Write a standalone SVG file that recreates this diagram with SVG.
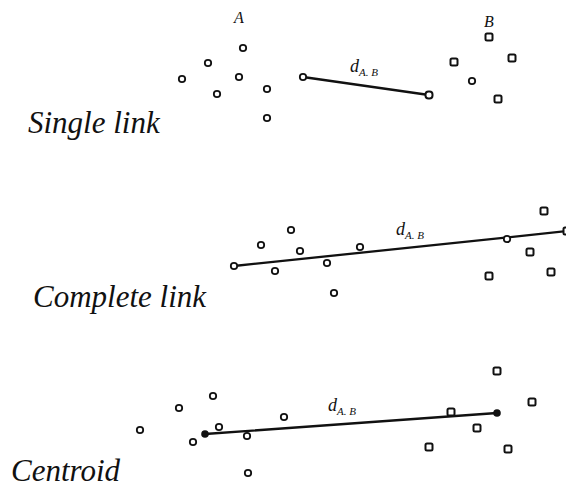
<svg xmlns="http://www.w3.org/2000/svg" width="566" height="488" viewBox="0 0 566 488">
<style>
.pt{fill:#fff;stroke:#111;stroke-width:1.8}
.sq{fill:#fff;stroke:#111;stroke-width:2}
.dot{fill:#111}
.ln{stroke:#111;stroke-width:2.3;fill:none;stroke-linecap:round}
.title{font-family:"Liberation Serif",serif;font-style:italic;font-size:31px;fill:#111}
.lbl{font-family:"Liberation Serif",serif;font-style:italic;fill:#111}
.sub{font-size:11px}
</style>
<rect width="566" height="488" fill="#fff"/>
<!-- Single link -->
<g id="single">
  <g id="single-connectors">
    <line class="ln" x1="303" y1="77" x2="429" y2="95"/>
  </g>
  <text class="lbl" x="234" y="23" font-size="16">A</text>
  <text class="lbl" x="484" y="27" font-size="16">B</text>
  <text class="lbl" x="350" y="72" font-size="18">d<tspan class="sub" dy="4">A. B</tspan></text>
  <g id="single-A">
    <circle class="pt" cx="243" cy="48" r="3.2"/>
    <circle class="pt" cx="208" cy="63" r="3.2"/>
    <circle class="pt" cx="182" cy="79" r="3.2"/>
    <circle class="pt" cx="239" cy="77" r="3.2"/>
    <circle class="pt" cx="217" cy="94" r="3.2"/>
    <circle class="pt" cx="267" cy="89" r="3.2"/>
    <circle class="pt" cx="267" cy="118" r="3.2"/>
    <circle class="pt" cx="303" cy="77" r="3.2"/>
  </g>
  <g id="single-B">
    <rect class="sq" x="485.5" y="33.5" width="7" height="7" rx="1.5"/>
    <rect class="sq" x="450.5" y="58.5" width="7" height="7" rx="1.5"/>
    <rect class="sq" x="508.5" y="54.5" width="7" height="7" rx="1.5"/>
    <circle class="pt" cx="472" cy="81" r="3.2"/>
    <rect class="sq" x="494.5" y="95.5" width="7" height="7" rx="1.5"/>
    <rect class="sq" x="425.5" y="91.5" width="7" height="7" rx="3"/>
  </g>
  <text class="title" x="28" y="133">Single link</text>
</g>
<!-- Complete link -->
<g id="complete">
  <g id="complete-connectors">
    <line class="ln" x1="234" y1="266" x2="568" y2="231"/>
  </g>
  <text class="lbl" x="396" y="235" font-size="18">d<tspan class="sub" dy="4">A. B</tspan></text>
  <g id="complete-A">
    <circle class="pt" cx="234" cy="266" r="3.2"/>
    <circle class="pt" cx="261" cy="245" r="3.2"/>
    <circle class="pt" cx="291" cy="230" r="3.2"/>
    <circle class="pt" cx="300" cy="251" r="3.2"/>
    <circle class="pt" cx="275" cy="271" r="3.2"/>
    <circle class="pt" cx="327" cy="263" r="3.2"/>
    <circle class="pt" cx="360" cy="247" r="3.2"/>
    <circle class="pt" cx="334" cy="293" r="3.2"/>
  </g>
  <g id="complete-B">
    <circle class="pt" cx="507" cy="239" r="3.2"/>
    <rect class="sq" x="540.5" y="207.5" width="7" height="7" rx="1.5"/>
    <rect class="sq" x="526.5" y="248.5" width="7" height="7" rx="1.5"/>
    <rect class="sq" x="485.5" y="272.5" width="7" height="7" rx="1.5"/>
    <rect class="sq" x="547.5" y="268.5" width="7" height="7" rx="1.5"/>
    <rect class="sq" x="563.5" y="227.5" width="7" height="7" rx="1.5"/>
  </g>
  <text class="title" x="33" y="307">Complete link</text>
</g>
<!-- Centroid -->
<g id="centroid">
  <g id="centroid-connectors">
    <line class="ln" x1="205" y1="434" x2="497" y2="413"/>
  </g>
  <circle class="dot" cx="205" cy="434" r="3.8"/>
  <circle class="dot" cx="497" cy="413" r="3.8"/>
  <text class="lbl" x="328" y="411" font-size="18">d<tspan class="sub" dy="4">A. B</tspan></text>
  <g id="centroid-A">
    <circle class="pt" cx="140" cy="430" r="3.2"/>
    <circle class="pt" cx="179" cy="408" r="3.2"/>
    <circle class="pt" cx="213" cy="396" r="3.2"/>
    <circle class="pt" cx="193" cy="442" r="3.2"/>
    <circle class="pt" cx="219" cy="427" r="3.2"/>
    <circle class="pt" cx="247" cy="436" r="3.2"/>
    <circle class="pt" cx="284" cy="417" r="3.2"/>
    <circle class="pt" cx="248" cy="473" r="3.2"/>
  </g>
  <g id="centroid-B">
    <rect class="sq" x="493.5" y="367.5" width="7" height="7" rx="1.5"/>
    <rect class="sq" x="528.5" y="398.5" width="7" height="7" rx="1.5"/>
    <rect class="sq" x="447.5" y="408.5" width="7" height="7" rx="1.5"/>
    <rect class="sq" x="473.5" y="424.5" width="7" height="7" rx="1.5"/>
    <rect class="sq" x="425.5" y="443.5" width="7" height="7" rx="1.5"/>
    <rect class="sq" x="504.5" y="445.5" width="7" height="7" rx="1.5"/>
  </g>
  <text class="title" x="11" y="481">Centroid</text>
</g>
</svg>
